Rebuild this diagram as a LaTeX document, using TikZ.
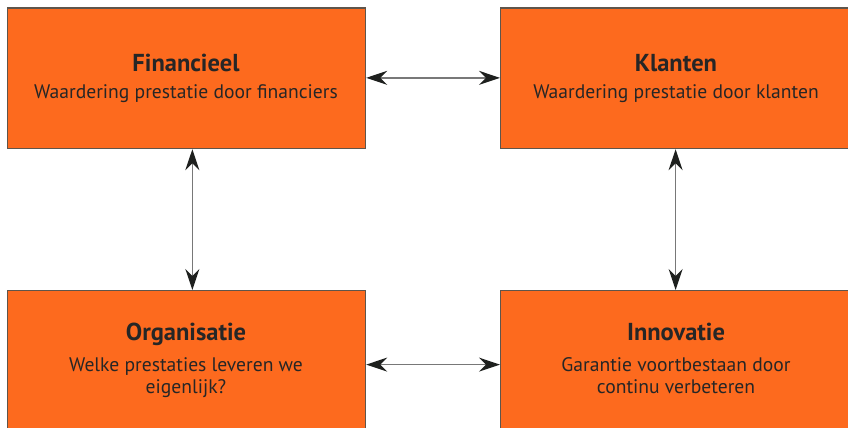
\documentclass[tikz,border=0pt]{standalone}
\usepackage{fontspec}
\setmainfont{PT Sans}
\usetikzlibrary{arrows.meta}
\definecolor{boxorange}{RGB}{253,106,30}
\definecolor{boxedge}{RGB}{95,85,75}
\definecolor{txt}{RGB}{38,38,38}
\definecolor{tipc}{RGB}{30,32,30}
\definecolor{linec}{RGB}{120,120,120}
\tikzset{
  card/.style={draw=boxedge, line width=1.2pt, fill=boxorange, anchor=north west, inner sep=0pt},
  ttl/.style={text=txt, font=\fontsize{24.5}{28}\selectfont\bfseries, anchor=base},
  body/.style={text=txt, font=\fontsize{19.6}{24}\selectfont, anchor=base},
  arr/.style={draw=linec, line width=1.3pt, {Stealth[length=21pt,width=14pt,inset=7pt,color=tipc]}-{Stealth[length=21pt,width=14pt,inset=7pt,color=tipc]}}
}
\begin{document}
\begin{tikzpicture}[x=1pt,y=-1pt]
\useasboundingbox (0,0) rectangle (848,428);
\clip (0,0) rectangle (848,428);
\node[card, minimum width=358.5pt, minimum height=140.5pt] (tl) at (6.5,7.5) {};
\node[card, minimum width=350pt, minimum height=140.5pt] (tr) at (500,7.5) {};
\node[card, minimum width=358.5pt, minimum height=150pt] (bl) at (6.5,290) {};
\node[card, minimum width=350pt, minimum height=150pt] (br) at (500,290) {};
\node[ttl] (t1) at (186,71) {Financieel};
\node[body] (b1) at (186,98) {Waardering prestatie door financiers};
\node[ttl] (t2) at (676,71) {Klanten};
\node[body] (b2) at (676,98) {Waardering prestatie door klanten};
\node[ttl] (t3) at (186,340) {Organisatie};
\node[body] (b3a) at (186,371) {Welke prestaties leveren we};
\node[body] (b3b) at (186,393) {eigenlijk?};
\node[ttl] (t4) at (676,340) {Innovatie};
\node[body] (b4a) at (676,371) {Garantie voortbestaan door};
\node[body] (b4b) at (676,393) {continu verbeteren};
\draw[arr] ([yshift=0.5pt]tl.east) -- ([yshift=0.5pt]tr.west);
\draw[arr] ([yshift=1pt]bl.east) -- ([yshift=1pt]br.west);
\draw[arr] ([xshift=6pt]tl.south) -- ([xshift=6pt]bl.north);
\draw[arr] (tr.south) -- (br.north);
\end{tikzpicture}
\end{document}
